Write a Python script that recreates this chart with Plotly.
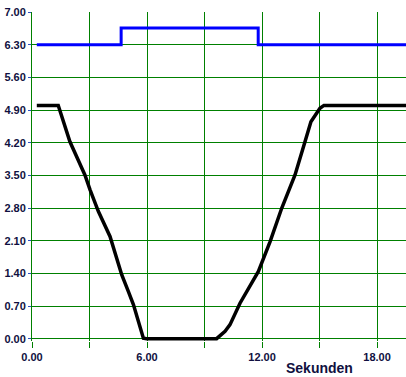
import plotly.graph_objects as go

# Data
blue_t = [0.25, 4.65, 11.8, 19.51]
blue_v = [6.30, 6.66, 6.30, 6.30]

black_t = [0.25, 1.37, 1.98, 2.76, 3.03, 3.46, 4.07, 4.68, 5.03, 5.29, 5.81, 5.98,
           9.63, 10.07, 10.33, 10.85, 11.81, 12.42, 13.03, 13.72, 14.24, 14.55, 15.02, 15.23, 19.51]
black_v = [5.0, 5.0, 4.22, 3.51, 3.19, 2.73, 2.19, 1.37, 1.01, 0.73, 0.01, 0.0,
           0.0, 0.16, 0.3, 0.76, 1.44, 2.08, 2.8, 3.51, 4.22, 4.65, 4.94, 5.0, 5.0]

x_tickvals = [0, 3, 6, 9, 12, 15, 18]
x_ticktext = ["0.00", "", "6.00", "", "12.00", "", "18.00"]
y_tickvals = [0.0, 0.7, 1.4, 2.1, 2.8, 3.5, 4.2, 4.9, 5.6, 6.3, 7.0]
y_ticktext = ["%.2f" % v for v in y_tickvals]

GREEN = "#008000"
LABEL = "#101040"
FONT = "Liberation Sans"

fig = go.Figure()
fig.add_trace(go.Scatter(x=blue_t, y=blue_v, mode="lines", line_shape="hv",
                         line=dict(color="#0000ff", width=3), showlegend=False))
fig.add_trace(go.Scatter(x=black_t, y=black_v, mode="lines",
                         line=dict(color="#000000", width=3.5), showlegend=False))

fig.update_layout(
    width=406, height=377,
    margin=dict(l=32, r=0, t=12, b=36),
    paper_bgcolor="white", plot_bgcolor="white",
    xaxis=dict(range=[0, 19.51], tickvals=x_tickvals, ticktext=x_ticktext,
               showgrid=True, gridcolor=GREEN, gridwidth=1,
               ticks="outside", ticklen=6, tickcolor=GREEN, tickwidth=1,
               showline=False, zeroline=False,
               tickfont=dict(family=FONT, size=11, color=LABEL, weight="bold")),
    yaxis=dict(range=[-0.05, 7.002], tickvals=y_tickvals, ticktext=y_ticktext,
               showgrid=True, gridcolor=GREEN, gridwidth=1,
               ticks="outside", ticklen=3, tickcolor="#3050c0", tickwidth=1,
               showline=True, linecolor=GREEN, linewidth=1, zeroline=False,
               tickfont=dict(family=FONT, size=11, color=LABEL, weight="bold")),
    annotations=[dict(text="Sekunden", x=15, xref="x", y=0, yref="paper",
                      yshift=-27, yanchor="middle", xanchor="center", showarrow=False,
                      font=dict(family=FONT, size=14, color=LABEL, weight="bold"))],
)

fig.write_html("out.html")
